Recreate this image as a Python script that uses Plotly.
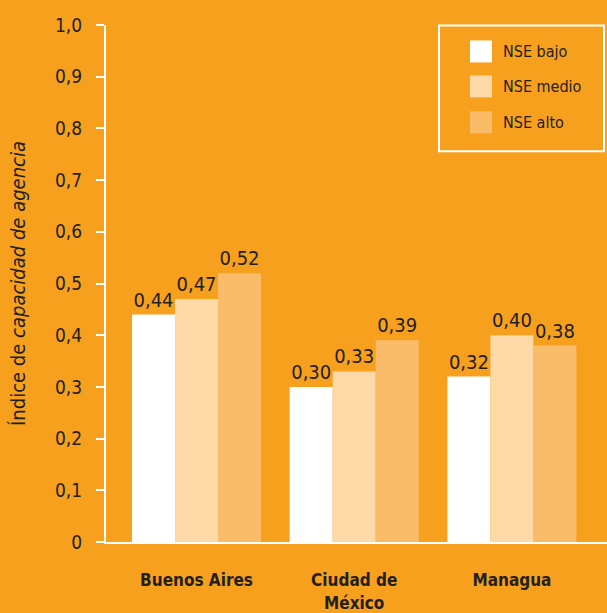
import plotly.graph_objects as go

categories = ["Buenos Aires", "Ciudad de<br>México", "Managua"]
series_names = ["NSE bajo", "NSE medio", "NSE alto"]
nse_bajo = [0.44, 0.30, 0.32]
nse_medio = [0.47, 0.33, 0.40]
nse_alto = [0.52, 0.39, 0.38]
y_tickvals = [0, 0.1, 0.2, 0.3, 0.4, 0.5, 0.6, 0.7, 0.8, 0.9, 1.0]
y_ticktext = ["0", "0,1", "0,2", "0,3", "0,4", "0,5", "0,6", "0,7", "0,8", "0,9", "1,0"]

colors = ["#FFFFFF", "#FCD9A7", "#FBBC6A"]
bg = "#F6A01E"
txt = "#231F20"
font_family = "Liberation Sans Narrow, DejaVu Sans Condensed, Arial Narrow, sans-serif"

fig = go.Figure()
for name, vals, col in zip(series_names, [nse_bajo, nse_medio, nse_alto], colors):
    fig.add_trace(go.Bar(
        x=list(range(len(categories))), y=vals, name=name,
        marker=dict(color=col, line=dict(width=0)),
        text=[f"{v:.2f}".replace(".", ",") for v in vals],
        textposition="outside", cliponaxis=False,
        textfont=dict(size=20, color=txt, family=font_family),
        showlegend=False,
    ))

# Manual legend (box + swatches + labels)
W, H = 501.0, 518.0
def px(x):
    return (x - 106) / W
def py(y):
    return (542.5 - y) / H

shapes = [dict(type="rect", xref="paper", yref="paper",
               x0=px(439), x1=px(604), y0=py(151), y1=py(25),
               line=dict(color="white", width=2), fillcolor="rgba(0,0,0,0)")]
annotations = []
row_tops = [40, 75, 111]
for name, col, top in zip(series_names, colors, row_tops):
    shapes.append(dict(type="rect", xref="paper", yref="paper",
                       x0=px(470), x1=px(492), y0=py(top + 22), y1=py(top),
                       line=dict(width=0), fillcolor=col))
    annotations.append(dict(xref="paper", yref="paper", x=px(501), y=py(top + 11),
                            text=name, showarrow=False, xanchor="left", yanchor="middle",
                            font=dict(size=16, color=txt, family=font_family)))

fig.update_layout(
    width=607, height=613,
    margin=dict(l=106, r=0, t=24.5, b=70.5),
    paper_bgcolor=bg, plot_bgcolor=bg,
    barmode="group", bargap=0.182, bargroupgap=0,
    font=dict(family=font_family, color=txt),
    shapes=shapes, annotations=annotations,
    xaxis=dict(
        range=[-0.574, 2.603],
        tickmode="array", tickvals=list(range(len(categories))), ticktext=categories,
        tickfont=dict(size=17, color=txt, family=font_family, weight="bold"),
        showline=True, linecolor="white", linewidth=2,
        ticks="", showgrid=False, zeroline=False,
        ticklabelstandoff=22,
    ),
    yaxis=dict(
        range=[0, 1], tickmode="array", tickvals=y_tickvals, ticktext=y_ticktext,
        tickfont=dict(size=19, color=txt, family=font_family),
        showline=True, linecolor="white", linewidth=2,
        ticks="outside", ticklen=8, tickwidth=2, tickcolor="white",
        showgrid=False, zeroline=False,
        ticklabelstandoff=10,
        title=dict(text="Índice de <i>capacidad de agencia</i>",
                   font=dict(size=20, color=txt, family=font_family), standoff=24),
    ),
)

fig.write_html("out.html", config={"displayModeBar": False},
               post_script="document.body.style.margin='0';document.body.style.overflow='hidden';")
